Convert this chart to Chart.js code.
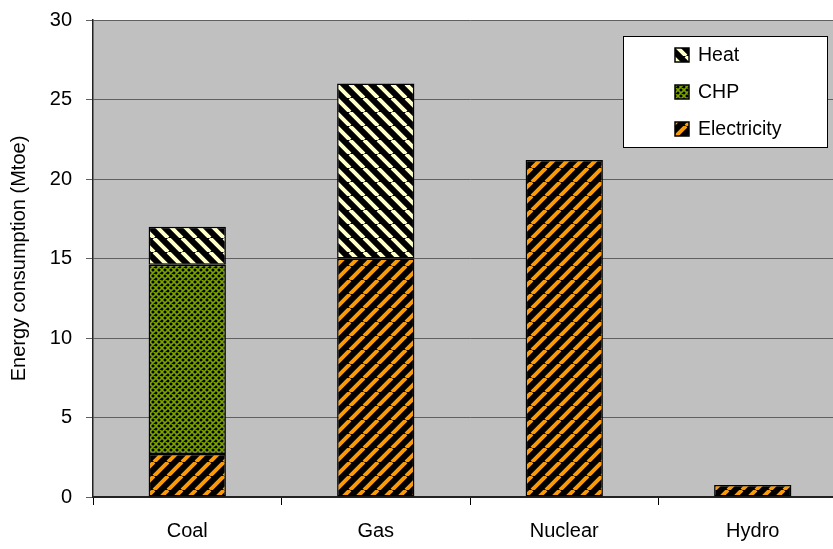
<!DOCTYPE html>
<html>
<head>
<meta charset="utf-8">
<script src="https://cdn.jsdelivr.net/npm/chart.js@4/dist/chart.umd.min.js"></script>
<style>
  html, body { margin: 0; padding: 0; background: #fff; overflow: hidden; }
  #wrap { width: 850px; height: 549px; }
</style>
</head>
<body>
<div id="wrap"><canvas id="grafico" width="850" height="549"></canvas></div>
<script>
const categorias = ["Coal", "Gas", "Nuclear", "Hydro"];
const eletricidade = [2.7, 15.0, 21.2, 0.75];
const chp = [11.9, null, null, null];
const calor = [2.4, 11.0, null, null];
const yTicks = [0, 5, 10, 15, 20, 25, 30];

const FONTE = "'Liberation Sans', Arial, sans-serif";

const canvas = document.getElementById("grafico");
const ctx = canvas.getContext("2d");

function listras(fundo, cor, dir, tam, larg) {
  const c = document.createElement("canvas");
  c.width = c.height = tam;
  const x = c.getContext("2d");
  x.fillStyle = fundo;
  x.fillRect(0, 0, tam, tam);
  x.strokeStyle = cor;
  x.lineWidth = larg;
  x.beginPath();
  for (const o of [-tam, 0, tam]) {
    if (dir === "/") { x.moveTo(o, tam); x.lineTo(o + tam, 0); }
    else { x.moveTo(o, 0); x.lineTo(o + tam, tam); }
  }
  x.stroke();
  return ctx.createPattern(c, "repeat");
}

function trelica(tam) {
  const c = document.createElement("canvas");
  c.width = c.height = tam;
  const x = c.getContext("2d");
  x.fillStyle = "#000";
  x.fillRect(0, 0, tam, tam);
  x.strokeStyle = "#7aa300";
  x.lineWidth = 1.6;
  x.beginPath();
  for (const o of [-tam, 0, tam]) {
    x.moveTo(o, tam); x.lineTo(o + tam, 0);
    x.moveTo(o, 0); x.lineTo(o + tam, tam);
  }
  x.stroke();
  return ctx.createPattern(c, "repeat");
}

const padraoEletr = listras("#000", "#ff9900", "/", 14, 4);
const padraoCalor = listras("#000", "#ffffcc", "\\", 14, 4);
const padraoChp = trelica(6);

const fundoPlot = {
  id: "fundoPlot",
  beforeDraw(chart) {
    const a = chart.chartArea;
    const c = chart.ctx;
    c.save();
    c.fillStyle = "#c0c0c0";
    c.fillRect(a.left, a.top, a.right - a.left, a.bottom - a.top);
    c.restore();
  }
};

const legenda = {
  id: "legenda",
  afterDraw(chart) {
    const c = chart.ctx;
    c.save();
    c.fillStyle = "#fff";
    c.fillRect(623.5, 36.5, 204, 111);
    c.strokeStyle = "#000";
    c.lineWidth = 1;
    c.strokeRect(623.5, 36.5, 204, 111);
    const itens = [
      ["Heat", padraoCalor, 55],
      ["CHP", padraoChp, 92],
      ["Electricity", padraoEletr, 129]
    ];
    itens.forEach(([txt, pat, y]) => {
      c.fillStyle = pat;
      c.fillRect(675, y - 7, 14, 14);
      c.strokeStyle = "#000";
      c.lineWidth = 1.5;
      c.strokeRect(675, y - 7, 14, 14);
      c.fillStyle = "#000";
      c.font = "19.5px " + FONTE;
      c.textBaseline = "middle";
      c.textAlign = "left";
      c.fillText(txt, 698, y + 1);
    });
    c.restore();
  }
};

new Chart(canvas, {
  type: "bar",
  data: {
    labels: categorias,
    datasets: [
      { label: "Electricity", data: eletricidade, backgroundColor: padraoEletr },
      { label: "CHP", data: chp, backgroundColor: padraoChp },
      { label: "Heat", data: calor, backgroundColor: padraoCalor }
    ].map(d => Object.assign(d, {
      borderColor: "#000",
      borderWidth: 1.5,
      borderSkipped: false,
      barPercentage: 0.41,
      categoryPercentage: 1
    }))
  },
  options: {
    responsive: false,
    animation: false,
    events: [],
    layout: { padding: { left: 0, right: 3, top: 20, bottom: 0 } },
    plugins: {
      legend: { display: false },
      tooltip: { enabled: false }
    },
    scales: {
      x: {
        stacked: true,
        offset: true,
        grid: { offset: true, drawOnChartArea: false, drawTicks: true, tickLength: 8, color: "#000" },
        border: { color: "#222", width: 2 },
        ticks: { color: "#000", font: { family: FONTE, size: 20 }, padding: 14 },
        afterFit(s) { s.height = 52; s.paddingLeft = 0; s.paddingRight = 0; }
      },
      y: {
        stacked: true,
        min: 0,
        max: 30,
        afterBuildTicks(s) { s.ticks = yTicks.map(v => ({ value: v })); },
        grid: { color: "#606060", tickLength: 7, drawTicks: true },
        border: { color: "#222", width: 1.5 },
        ticks: { color: "#000", font: { family: FONTE, size: 20 }, padding: 14 },
        title: {
          display: true,
          text: "Energy consumption (Mtoe)",
          color: "#000",
          font: { family: FONTE, size: 20 },
          padding: { top: 7, bottom: 0 }
        },
        afterFit(s) { s.width = 93; s.paddingTop = 0; s.paddingBottom = 0; }
      }
    }
  },
  plugins: [fundoPlot, legenda]
});
</script>
</body>
</html>
